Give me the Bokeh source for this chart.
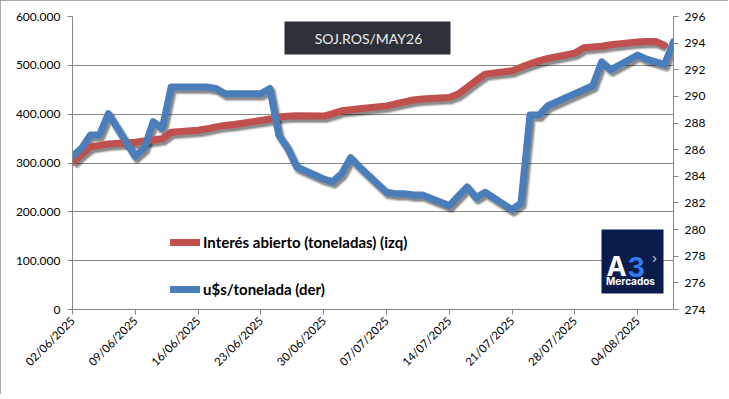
import math
import pandas as pd
from bokeh.plotting import figure
from bokeh.models import (Range1d, LinearAxis, FixedTicker, Legend, LegendItem,
                          Label, BoxAnnotation)
from bokeh.embed import file_html
from bokeh.resources import INLINE

# ---------------- data ----------------
DATES = [
    "02/06/2025", "03/06/2025", "04/06/2025", "05/06/2025", "06/06/2025",
    "09/06/2025", "10/06/2025", "11/06/2025", "12/06/2025", "13/06/2025",
    "16/06/2025", "17/06/2025", "18/06/2025", "19/06/2025", "20/06/2025",
    "23/06/2025", "24/06/2025", "25/06/2025", "26/06/2025", "27/06/2025",
    "30/06/2025", "01/07/2025", "02/07/2025", "03/07/2025", "04/07/2025",
    "07/07/2025", "08/07/2025", "09/07/2025", "10/07/2025", "11/07/2025",
    "14/07/2025", "15/07/2025", "16/07/2025", "17/07/2025", "18/07/2025",
    "21/07/2025", "22/07/2025", "23/07/2025", "24/07/2025", "25/07/2025",
    "28/07/2025", "29/07/2025", "30/07/2025", "31/07/2025", "01/08/2025",
    "04/08/2025", "05/08/2025", "06/08/2025", "07/08/2025", "08/08/2025",
]
OPEN_INTEREST = [
    301000, 318000, 333000, 336000, 339000,
    342500, 345000, 347000, 349500, 363000,
    367000, 370000, 374000, 377000, 379000,
    387000, 390000, 394000, 396000, 397000,
    396000, 401000, 407000, 409000, 411000,
    417000, 421000, 425000, 429000, 431000,
    434000, 441000, 455000, 469000, 482000,
    489000, 496000, 503000, 509000, 514000,
    525000, 536000, 537500, 539000, 542000,
    548000, 549000, 549000, 541000, float("nan"),
]
PRICE = [
    285.5, 286.1, 287.1, 287.1, 288.7,
    285.5, 286.1, 288.1, 287.6, 290.7,
    290.7, 290.7, 290.6, 290.2, 290.2,
    290.2, 290.6, 287.1, 286.1, 284.7,
    283.8, 283.6, 284.2, 285.4, 284.7,
    282.8, 282.7, 282.7, 282.6, 282.6,
    281.8, 282.5, 283.2, 282.4, 282.8,
    281.5, 282.0, 288.6, 288.6, 289.3,
    290.2, 290.5, 290.8, 292.6, 292.0,
    293.1, 292.8, 292.6, 292.4, 294.1,
]
SERIES_NAMES = ["Interés abierto (toneladas) (izq)", "u$s/tonelada (der)"]
X_TICK_LABELS = ["02/06/2025", "09/06/2025", "16/06/2025", "23/06/2025", "30/06/2025",
                 "07/07/2025", "14/07/2025", "21/07/2025", "28/07/2025", "04/08/2025"]
LEFT_TICKS = [0, 100000, 200000, 300000, 400000, 500000, 600000]
LEFT_TICK_LABELS = ["0", "100.000", "200.000", "300.000", "400.000", "500.000", "600.000"]
RIGHT_TICKS = [274, 276, 278, 280, 282, 284, 286, 288, 290, 292, 294, 296]
TITLE_TEXT = "SOJ.ROS/MAY26"
LOGO_TEXTS = ["A", "3", "Mercados", "›"]

# ---------------- layout ----------------
W, H = 728, 394
BL, BR, BT, BB = 72, 55, 16, 85
FW, FH = W - BL - BR, H - BT - BB
PAGE = 0
FRAME_LEFT_ABS, FRAME_TOP_ABS = PAGE + BL, PAGE + BT

RED = "#C0504D"
BLUE = "#4A7EBB"
GRID = "#878787"
FONT = "Lato"

d0 = pd.to_datetime(DATES[0], format="%d/%m/%Y")
xs = [int((pd.to_datetime(d, format="%d/%m/%Y") - d0).days) for d in DATES]
tick_xs = [int((pd.to_datetime(d, format="%d/%m/%Y") - d0).days) for d in X_TICK_LABELS]
X0, X1 = 0, xs[-1]
Y0, Y1 = LEFT_TICKS[0], LEFT_TICKS[-1]
R0, R1 = RIGHT_TICKS[0], RIGHT_TICKS[-1]


def dx(ax):
    return X0 + (ax - FRAME_LEFT_ABS) / FW * (X1 - X0)


def dy(ay):
    return Y0 + (FRAME_TOP_ABS + FH - ay) / FH * (Y1 - Y0)


p = figure(width=W, height=H, output_backend="svg", toolbar_location=None,
           title=None,
           x_range=Range1d(X0, X1), y_range=Range1d(Y0, Y1),
           min_border_left=BL, min_border_right=BR, min_border_top=BT,
           min_border_bottom=BB, background_fill_color="white",
           border_fill_color="white")
p.outline_line_color = None
p.styles = {"outline": "1px solid #8a8a8a", "outline-offset": "-1px"}

# extra ranges: right axis + shadow offsets (shift a few px right/down)
SHX, SHY = 2, 3
sx = SHX / FW * (X1 - X0)
syl = SHY / FH * (Y1 - Y0)
syr = SHY / FH * (R1 - R0)
p.extra_y_ranges = {
    "right": Range1d(R0, R1),
    "lshadow": Range1d(Y0 + syl, Y1 + syl),
    "rshadow": Range1d(R0 + syr, R1 + syr),
}
p.extra_x_ranges = {"shadow": Range1d(X0 - sx, X1 - sx)}

# shadows
for w, a in ((10, 0.10), (8, 0.18), (6, 0.25)):
    p.line(xs, OPEN_INTEREST, x_range_name="shadow", y_range_name="lshadow",
           line_color="black", line_alpha=a, line_width=w, line_join="round")
    p.line(xs, PRICE, x_range_name="shadow", y_range_name="rshadow",
           line_color="black", line_alpha=a, line_width=w, line_join="round")

r_red = p.line(xs, OPEN_INTEREST, line_color=RED, line_width=7, line_join="round",
               line_cap="round")
r_blue = p.line(xs, PRICE, y_range_name="right", line_color=BLUE, line_width=7,
                line_join="round", line_cap="round")

# axes
p.xgrid.visible = False
p.ygrid.ticker = FixedTicker(ticks=LEFT_TICKS)
p.ygrid.grid_line_color = GRID

right_axis = LinearAxis(y_range_name="right")
p.add_layout(right_axis, "right")

for ax in (p.xaxis[0], p.yaxis[0], right_axis):
    ax.axis_line_color = GRID
    ax.major_tick_line_color = GRID
    ax.minor_tick_line_color = None
    ax.major_tick_in = 0
    ax.major_tick_out = 5
    ax.major_label_text_font = FONT
    ax.major_label_text_color = "black"
    ax.major_label_text_font_size = "12px"

p.yaxis[0].ticker = FixedTicker(ticks=LEFT_TICKS)
p.yaxis[0].major_label_overrides = dict(zip(LEFT_TICKS, LEFT_TICK_LABELS))
p.yaxis[0].major_label_standoff = 7

right_axis.ticker = FixedTicker(ticks=RIGHT_TICKS)
right_axis.major_label_standoff = 6

p.xaxis[0].ticker = FixedTicker(ticks=tick_xs)
p.xaxis[0].major_label_overrides = dict(zip(tick_xs, X_TICK_LABELS))
p.xaxis[0].major_label_orientation = math.pi / 4
p.xaxis[0].major_label_text_font_size = "11.5px"
p.xaxis[0].major_label_standoff = 4

# legend
legend = Legend(items=[LegendItem(label=SERIES_NAMES[0], renderers=[r_red]),
                       LegendItem(label=SERIES_NAMES[1], renderers=[r_blue])],
                location=(98, 10), orientation="vertical",
                glyph_width=30, glyph_height=20, label_height=20, spacing=27,
                padding=0, margin=0, label_standoff=3,
                border_line_color=None, background_fill_alpha=0,
                label_text_font=FONT, label_text_font_style="bold",
                label_text_font_size="15px", label_text_color="black")
p.add_layout(legend)

# title box
p.add_layout(BoxAnnotation(left=dx(284), right=dx(450), top=dy(21), bottom=dy(54),
                           fill_color="#2E313A", fill_alpha=1, line_color=None))
p.add_layout(Label(x=dx(368), y=dy(38), text=TITLE_TEXT, text_align="center",
                   text_baseline="middle", text_color="#EDEDED", text_font=FONT,
                   text_font_size="14px"))

# logo
p.add_layout(BoxAnnotation(left=dx(601), right=dx(663), top=dy(229), bottom=dy(293),
                           fill_color="#0B1C4C", fill_alpha=1, line_color=None))
p.add_layout(Label(x=dx(606), y=dy(266), text=LOGO_TEXTS[0], text_align="left",
                   text_baseline="alphabetic", text_color="white", text_font="Inter",
                   text_font_style="bold", text_font_size="27px"))
p.add_layout(Label(x=dx(627), y=dy(266), text=LOGO_TEXTS[1], text_align="left",
                   text_baseline="alphabetic", text_color="#2F7EF2", text_font="Inter",
                   text_font_style="bold", text_font_size="27px"))
p.add_layout(Label(x=dx(654), y=dy(257), text=LOGO_TEXTS[3], text_align="center",
                   text_baseline="middle", text_color="#C9CBD6", text_font="Inter",
                   text_font_size="13px"))
p.add_layout(Label(x=dx(630), y=dy(280), text=LOGO_TEXTS[2], text_align="center",
                   text_baseline="alphabetic", text_color="white", text_font="Inter",
                   text_font_style="bold", text_font_size="10px"))

open("out.html", "w").write(file_html(p, INLINE))
